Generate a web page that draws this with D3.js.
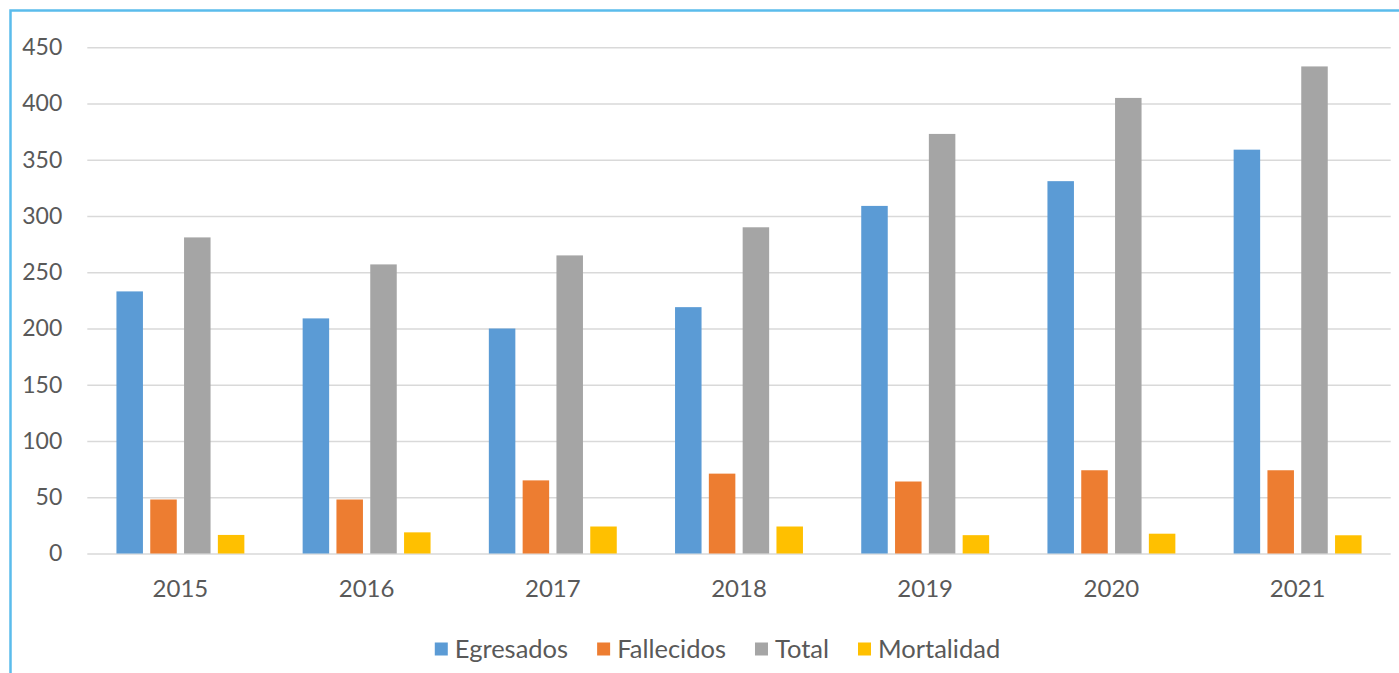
<!DOCTYPE html>
<html>
<head>
<meta charset="utf-8">
<script src="https://cdn.jsdelivr.net/npm/d3@7"></script>
<style>
  html, body { margin: 0; padding: 0; background: #ffffff; }
  svg { display: block; }
  text { font-family: Lato, "Open Sans", sans-serif; fill: #595959; }
</style>
</head>
<body>
<svg id="chart" width="1399" height="673"></svg>
<script>
const categories = ["2015", "2016", "2017", "2018", "2019", "2020", "2021"];
const seriesNames = ["Egresados", "Fallecidos", "Total", "Mortalidad"];
const egresados  = [233, 209, 200, 219, 309, 331, 359];
const fallecidos = [48, 48, 65, 71, 64, 74, 74];
const total      = [281, 257, 265, 290, 373, 405, 433];
const mortalidad = [16.5, 18.8, 24, 24, 16.3, 17.6, 16.2];
const yTicks = [0, 50, 100, 150, 200, 250, 300, 350, 400, 450];
const colors = ["#5B9BD5", "#ED7D31", "#A5A5A5", "#FFC000"];

const seriesValues = [egresados, fallecidos, total, mortalidad];
const rows = categories.map((c, i) => {
  const r = { cat: c };
  seriesNames.forEach((s, j) => r[s] = seriesValues[j][i]);
  return r;
});

const svg = d3.select("#chart");

// outer border (chart area frame)
svg.append("rect")
  .attr("x", 10.5).attr("y", 10.5)
  .attr("width", 1420).attr("height", 700)
  .attr("fill", "none")
  .attr("stroke", "#5BBCEC")
  .attr("stroke-width", 2.5);

const x0 = d3.scaleBand().domain(categories).range([87.3, 1390.7]).paddingInner(0).paddingOuter(0);
const x1 = d3.scaleBand().domain(seriesNames).range([0, x0.bandwidth()]).paddingInner(0.216).paddingOuter(0.862);
const y = d3.scaleLinear().domain([0, 450]).range([553.5, 47.3]);
const color = d3.scaleOrdinal().domain(seriesNames).range(colors);

// gridlines
const yAxis = d3.axisLeft(y).tickValues(yTicks).tickSize(-(1390.7 - 87.3)).tickPadding(25).tickFormat(d3.format("d"));
const gy = svg.append("g").attr("transform", "translate(87.3,0)").call(yAxis);
gy.select(".domain").remove();
gy.selectAll(".tick line").attr("stroke", "#D9D9D9").attr("stroke-width", 1.6);
gy.selectAll(".tick text").attr("font-size", 23).attr("fill", "#595959")
  .style("font-family", "Lato, 'Open Sans', sans-serif");

// bars
const groups = svg.append("g").selectAll("g")
  .data(rows).join("g")
  .attr("transform", d => `translate(${x0(d.cat)},0)`);
groups.selectAll("rect")
  .data(d => seriesNames.map(s => ({ key: s, value: d[s] })))
  .join("rect")
  .attr("x", d => x1(d.key))
  .attr("width", x1.bandwidth())
  .attr("y", d => y(d.value))
  .attr("height", d => y(0) - y(d.value))
  .attr("fill", d => color(d.key));

// x axis labels
const xAxis = d3.axisBottom(x0).tickSize(0).tickPadding(26);
const gx = svg.append("g").attr("transform", `translate(0,${y(0)})`).call(xAxis);
gx.select(".domain").remove();
gx.selectAll(".tick text").attr("font-size", 24).attr("fill", "#595959")
  .style("font-family", "Lato, 'Open Sans', sans-serif");

// legend
const legend = svg.append("g");
const items = legend.selectAll("g").data(seriesNames).join("g");
items.append("rect").attr("width", 13).attr("height", 13).attr("y", -6.5).attr("fill", d => color(d));
items.append("text").attr("x", 20).attr("dy", "0.35em").attr("font-size", 25.5).text(d => d);
let cx = 0;
const gap = 29;
items.each(function() {
  const g = d3.select(this);
  const w = 20 + g.select("text").node().getComputedTextLength();
  g.attr("transform", `translate(${cx},0)`);
  cx += w + gap;
});
const totalW = cx - gap;
legend.attr("transform", `translate(${717.5 - totalW / 2},649)`);
</script>
</body>
</html>
